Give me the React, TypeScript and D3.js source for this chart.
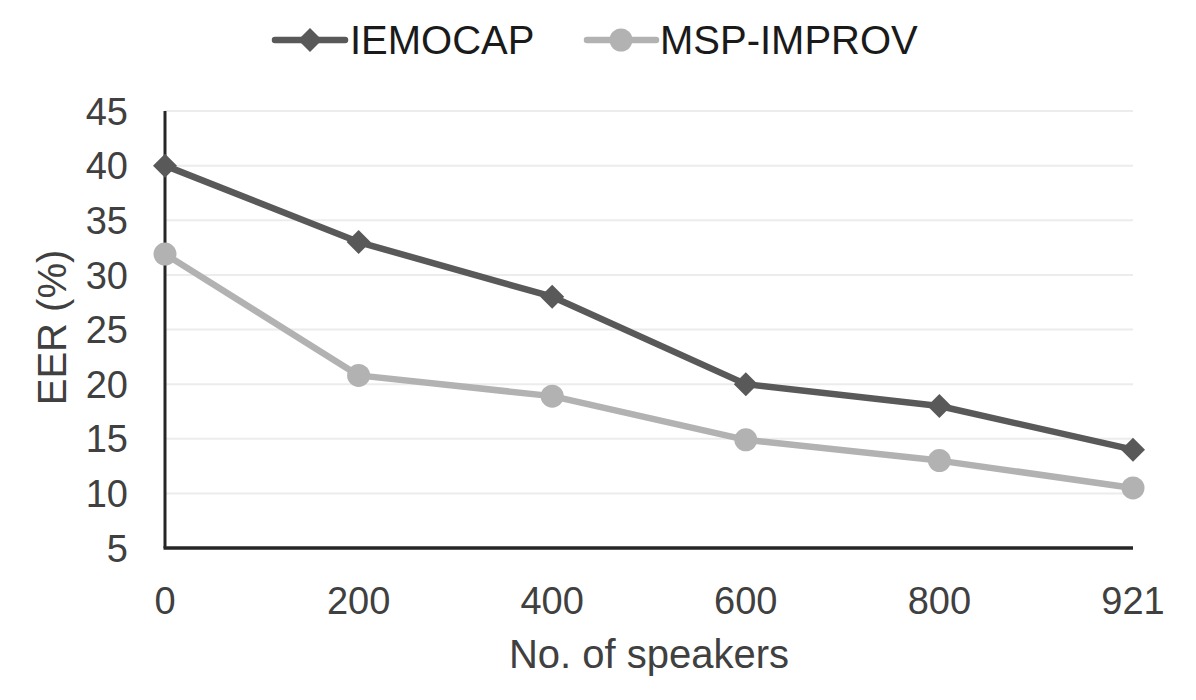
import React from "react";
import * as d3 from "d3";

const categories = ["0", "200", "400", "600", "800", "921"];
const iemocap = [40, 33, 28, 20, 18, 14];
const mspImprov = [31.9, 20.8, 18.9, 14.9, 13, 10.5];
const yTicks = [5, 10, 15, 20, 25, 30, 35, 40, 45];

const W = 1196;
const H = 700;
const left = 165;
const right = 1133;
const top = 111;
const bottom = 548;
const DARK = "#595959";
const LIGHT = "#b2b2b2";
const TEXT = "#404040";
const FONT = "'Liberation Sans', Arial, sans-serif";

export default function App() {
  const x = d3.scalePoint<string>().domain(categories).range([left, right]);
  const y = d3.scaleLinear().domain([5, 45]).range([bottom, top]);
  const line = d3
    .line<number>()
    .x((_, i) => x(categories[i]) as number)
    .y((d) => y(d));
  const diamond = (cx: number, cy: number, r: number) =>
    `M${cx},${cy - r}L${cx + r},${cy}L${cx},${cy + r}L${cx - r},${cy}Z`;

  return (
    <svg
      width={W}
      height={H}
      style={{ position: "absolute", left: 0, top: 0, background: "#fff" }}
      fontFamily={FONT}
    >
      {/* gridlines */}
      {yTicks.slice(1).map((t) => (
        <line key={t} x1={left} x2={right} y1={y(t)} y2={y(t)} stroke="#ececec" strokeWidth={2} />
      ))}
      {/* axes */}
      <line x1={left} x2={left} y1={top} y2={bottom} stroke="#262626" strokeWidth={3} />
      <line x1={left - 1.5} x2={right} y1={bottom} y2={bottom} stroke="#262626" strokeWidth={3.5} />
      {/* y tick labels */}
      {yTicks.map((t) => (
        <text key={t} x={128} y={y(t)} dy="0.36em" textAnchor="end" fontSize={38} fill={TEXT}>
          {t}
        </text>
      ))}
      {/* x tick labels */}
      {categories.map((c) => (
        <text key={c} x={x(c)} y={614} textAnchor="middle" fontSize={38} fill={TEXT}>
          {c}
        </text>
      ))}
      <text x={649} y={668} textAnchor="middle" fontSize={40} fill={TEXT}>
        No. of speakers
      </text>
      <text
        transform={`translate(66,${(top + bottom) / 2 - 2}) rotate(-90)`}
        textAnchor="middle"
        fontSize={40}
        fill={TEXT}
      >
        EER (%)
      </text>
      {/* series */}
      <path d={line(mspImprov) || ""} fill="none" stroke={LIGHT} strokeWidth={6.5} strokeLinejoin="round" />
      {mspImprov.map((v, i) => (
        <circle key={i} cx={x(categories[i])} cy={y(v)} r={11.5} fill={LIGHT} />
      ))}
      <path d={line(iemocap) || ""} fill="none" stroke={DARK} strokeWidth={6.5} strokeLinejoin="round" />
      {iemocap.map((v, i) => (
        <path key={i} d={diamond(x(categories[i]) as number, y(v), 12)} fill={DARK} />
      ))}
      {/* legend */}
      <line x1={275} x2={345} y1={40} y2={40} stroke={DARK} strokeWidth={6.5} strokeLinecap="round" />
      <path d={diamond(310, 40, 12)} fill={DARK} />
      <text x={350} y={54} fontSize={40} fill="#1a1a1a">IEMOCAP</text>
      <line x1={587} x2={656} y1={40} y2={40} stroke={LIGHT} strokeWidth={6.5} strokeLinecap="round" />
      <circle cx={621} cy={40} r={11.5} fill={LIGHT} />
      <text x={660} y={54} fontSize={40} fill="#1a1a1a">MSP-IMPROV</text>
    </svg>
  );
}
